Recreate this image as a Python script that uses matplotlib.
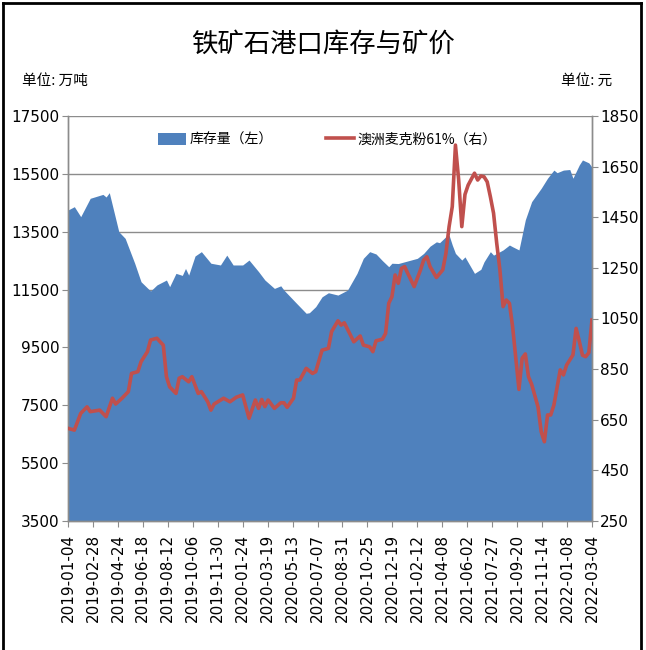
import matplotlib
matplotlib.use("Agg")
import matplotlib.pyplot as plt
from matplotlib.patches import Patch
from matplotlib.lines import Line2D
from matplotlib.ticker import FixedLocator
import numpy as np
import pandas as pd

plt.rcParams['font.family'] = ['Noto Sans CJK SC', 'DejaVu Sans']

start = pd.Timestamp('2019-01-04')

# Inventory (万吨), week index since 2019-01-04 and value
inv_weeks = [0, 2, 4, 7, 11, 12, 13, 16, 18, 21, 23, 26, 28, 31, 32, 34, 36, 37, 38,
             40, 42, 45, 48, 50, 52, 55, 57, 60, 62, 65, 67, 68, 72, 75, 76, 78, 80,
             82, 85, 88, 91, 93, 95, 97, 99, 101, 102, 104, 106, 110, 112, 114, 116,
             117, 119, 120, 121, 122, 124, 125, 128, 130, 131, 133, 134, 137, 139,
             140, 142, 143, 144, 146, 149, 151, 153, 154, 156, 158, 159, 161, 162,
             164, 165]
inv_values = [14250, 14365, 14020, 14655, 14790, 14700, 14850, 13500, 13270, 12410,
              11770, 11450, 11660, 11830, 11600, 12060, 11990, 12230, 12000,
              12660, 12810, 12410, 12350, 12690, 12350, 12350, 12520, 12120, 11830,
              11540, 11630, 11480, 11020, 10680, 10700, 10910, 11250,
              11390, 11310, 11480, 12060, 12580, 12810, 12730, 12500, 12290, 12410,
              12400, 12460, 12580, 12750, 13000, 13150,
              13120, 13330, 13380, 13040, 12750, 12520, 12630, 12060, 12200, 12460,
              12810, 12690, 12870, 13040,
              12980, 12870, 13390, 13910, 14540, 15000, 15350, 15630, 15540, 15630,
              15650, 15350, 15810, 15980, 15880, 15730]

# Australian PB fines 61% price (元)
price_weeks = [0, 2, 4, 6, 7, 10, 12, 14, 15, 17, 19, 20, 22, 23, 25, 26, 28, 29, 30,
               31, 32, 34, 35, 36, 38, 39, 41, 42, 44, 45, 46, 49, 51, 53, 55, 57, 59,
               60, 61, 62, 63, 65, 67, 68, 69, 71, 72, 73, 75, 77, 78, 80, 82, 83, 85,
               86, 87, 90, 92, 93, 95, 96, 97, 99, 100, 101, 102, 103, 104, 105, 106,
               107, 109, 111, 112, 113, 114, 116, 118, 119, 120, 121, 122, 123, 124,
               125, 126, 128, 129, 130, 131, 132, 133, 134, 135, 136, 137, 138, 139,
               140, 142, 143, 144, 145, 146, 148, 149, 150, 151, 152, 153, 155, 156,
               157, 159, 160, 161, 162, 163, 164, 165]
price_values = [616, 609, 675, 701, 682, 688, 662, 735, 712, 735, 761, 833, 840, 879,
                919, 965, 972, 958, 945,
                820, 780, 754, 814, 820, 800, 820, 754, 761, 721, 688, 712, 735, 721,
                739, 748, 656, 728,
                695, 730, 702, 728, 695, 717, 717, 699, 735, 807, 807, 853, 833, 840,
                925, 932, 998, 1041,
                1024, 1033, 958, 981, 945, 938, 919, 962, 968, 991, 1110, 1136, 1222,
                1189, 1248, 1255,
                1228, 1176, 1242, 1281, 1294, 1255, 1212, 1242, 1307, 1413, 1492, 1735,
                1600, 1413,
                1540, 1577, 1624, 1597, 1613, 1610, 1590, 1531, 1466, 1347, 1242, 1097,
                1123, 1110,
                1018, 770, 893, 910, 820, 790, 701, 603, 563, 669, 669, 708, 847, 827,
                866, 906, 1011, 960, 905, 899, 915, 1044]

tick_labels = ['2019-01-04', '2019-02-28', '2019-04-24', '2019-06-18', '2019-08-12',
               '2019-10-06', '2019-11-30', '2020-01-24', '2020-03-19', '2020-05-13',
               '2020-07-07', '2020-08-31', '2020-10-25', '2020-12-19', '2021-02-12',
               '2021-04-08', '2021-06-02', '2021-07-27', '2021-09-20', '2021-11-14',
               '2022-01-08', '2022-03-04']

title = '铁矿石港口库存与矿价'
left_unit = '单位: 万吨'
right_unit = '单位: 元'
inv_label = '库存量（左）'
price_label = '澳洲麦克粉61%（右）'

inv_dates = [start + pd.Timedelta(days=7 * w) for w in inv_weeks]
price_dates = [start + pd.Timedelta(days=7 * w) for w in price_weeks]
tick_dates = pd.to_datetime(tick_labels)

blue = '#4F81BD'
red = '#C0504D'
grid_c = '#8C8C8C'
narrow = ['Liberation Sans Narrow', 'DejaVu Sans Condensed', 'DejaVu Sans']

fig = plt.figure(figsize=(6.46, 6.50), dpi=100)
ax = fig.add_axes([68 / 646, 1 - 521 / 650, (592 - 68) / 646, (521 - 116) / 650])
ax2 = ax.twinx()

ax.set_zorder(1)
ax2.set_zorder(2)
ax2.patch.set_visible(False)

ax.fill_between(inv_dates, inv_values, 3500, color=blue, lw=0, zorder=2)
ax.set_ylim(3500, 17500)
ax.yaxis.set_major_locator(FixedLocator(np.arange(3500, 17501, 2000)))
for yv in np.arange(5500, 17501, 2000):
    ax.axhline(yv, color=grid_c, lw=1.0, zorder=1)

ax2.plot(price_dates, price_values, color=red, lw=2.6, zorder=3, solid_joinstyle='round')
ax2.set_ylim(250, 1850)
ax2.yaxis.set_major_locator(FixedLocator(np.arange(250, 1851, 200)))

ax.set_xlim(tick_dates[0], tick_dates[-1])
ax.set_xticks(tick_dates)
ax.set_xticklabels(tick_labels, rotation=90, family='DejaVu Sans', fontsize=11)

for a in (ax, ax2):
    for s in a.spines.values():
        s.set_color(grid_c)
        s.set_linewidth(1.0)
    a.spines['top'].set_visible(False)

ax.tick_params(axis='y', length=4, color=grid_c, labelsize=10.5, pad=2)
ax.tick_params(axis='x', length=4, color=grid_c, pad=5)
ax2.tick_params(axis='y', length=4, color=grid_c, labelsize=10.5, pad=2)
for lab in ax.get_yticklabels() + ax2.get_yticklabels():
    lab.set_family(narrow)
    lab.set_fontsize(11)

handles = [Patch(facecolor=blue, edgecolor='none'),
           Line2D([0], [0], color=red, lw=2.6)]
leg = ax2.legend(handles, [inv_label, price_label], loc='upper center',
                 bbox_to_anchor=(0.495, 0.99), ncol=2, frameon=False, fontsize=10,
                 handlelength=2.0, handleheight=0.9, columnspacing=3.8,
                 handletextpad=0.3)

fig.text(0.5, 1 - 44 / 650, title, ha='center', va='center', fontsize=19)
fig.text(22 / 646, 1 - 81 / 650, left_unit, ha='left', va='center', fontsize=10.5)
fig.text(612 / 646, 1 - 81 / 650, right_unit, ha='right', va='center', fontsize=10.5)

# outer border
fig.add_artist(plt.Line2D([3 / 646, 3 / 646], [0, 1 - 3 / 650], transform=fig.transFigure, color='black', lw=2))
fig.add_artist(plt.Line2D([641 / 646, 641 / 646], [0, 1 - 3 / 650], transform=fig.transFigure, color='black', lw=2))
fig.add_artist(plt.Line2D([3 / 646, 641 / 646], [1 - 3 / 650, 1 - 3 / 650], transform=fig.transFigure, color='black', lw=2))

fig.savefig('out.png', dpi=100)
